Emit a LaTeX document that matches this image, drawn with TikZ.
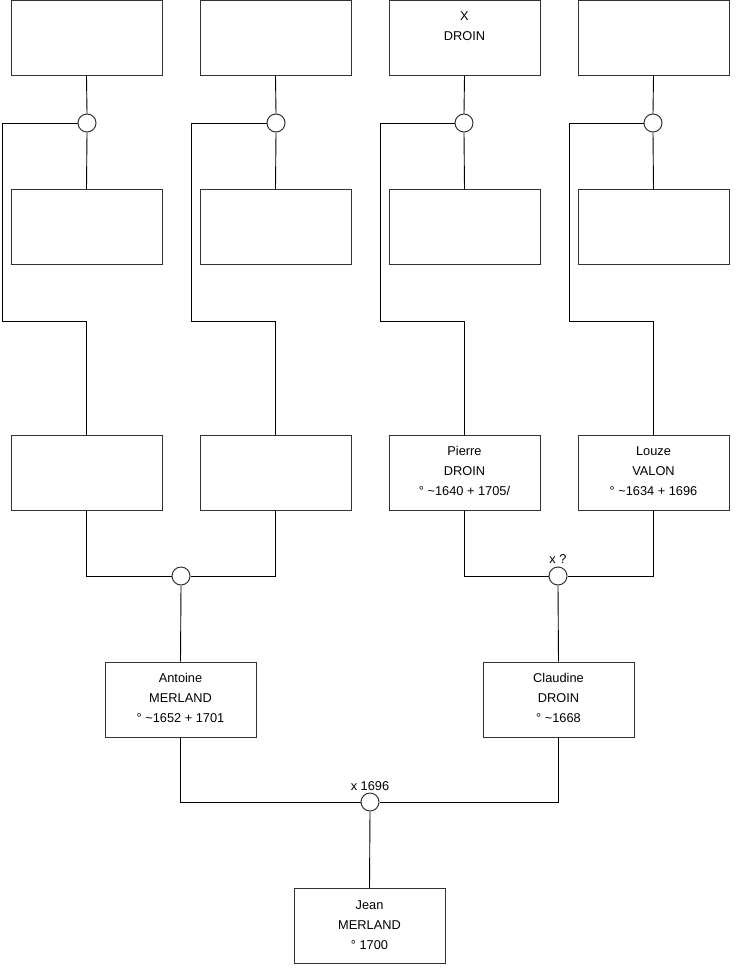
\documentclass[tikz,border=0pt]{standalone}
\usepackage{fontspec}
\setmainfont{Liberation Sans}
\usetikzlibrary{backgrounds}
\begin{document}
\begin{tikzpicture}[x=1pt,y=-1pt,
  pbox/.style={draw=black!80,line width=1pt,minimum width=151pt,minimum height=75pt,inner sep=0pt,fill=white},
  marr/.style={draw=black!80,line width=1pt,circle,minimum size=18pt,inner sep=0pt,fill=white},
  ptext/.style={anchor=north,inner sep=0pt,align=center,font=\fontsize{12.8}{20}\selectfont},
  lbl/.style={inner sep=0pt,font=\fontsize{12.8}{14}\selectfont},
  conn/.style={draw=black,line width=0.9pt}]
\useasboundingbox (0,0) rectangle (740,975);
% row 1
\node[pbox] (a1) at (86.5,38) {};
\node[pbox] (a2) at (275.5,38) {};
\node[pbox] (a3) at (464.5,38) {};
\node[pbox] (a4) at (653.5,38) {};
% row 2
\node[pbox] (b1) at (86.5,227) {};
\node[pbox] (b2) at (275.5,227) {};
\node[pbox] (b3) at (464.5,227) {};
\node[pbox] (b4) at (653.5,227) {};
% row 3
\node[pbox] (c1) at (86.5,472.5) {};
\node[pbox] (c2) at (275.5,472.5) {};
\node[pbox] (c3) at (464.5,472.5) {};
\node[pbox] (c4) at (653.5,472.5) {};
% row 4
\node[pbox] (d1) at (180.5,699.5) {};
\node[pbox] (d2) at (558.5,699.5) {};
% row 5
\node[pbox] (e1) at (369.5,926) {};
% circles
\node[marr] (m1) at (87,123) {};
\node[marr] (m2) at (276,123) {};
\node[marr] (m3) at (464,123) {};
\node[marr] (m4) at (653,123) {};
\node[marr] (m5) at (181,576) {};
\node[marr] (m6) at (558,576) {};
\node[marr] (m7) at (370,802) {};
% coordinates
\coordinate (p1) at (2,123);  \coordinate (q1) at (2,321);
\coordinate (p2) at (191,123); \coordinate (q2) at (191,321);
\coordinate (p3) at (380,123); \coordinate (q3) at (380,321);
\coordinate (p4) at (569,123); \coordinate (q4) at (569,321);
\begin{pgfonlayer}{background}
% connectors top
\foreach \i in {1,2,3,4}{
  \draw[conn] (a\i.south) -- (m\i.north);
  \draw[conn] (m\i.south) -- (b\i.north);
  \draw[conn] (m\i.west) -- (p\i) -- (q\i) -| (c\i.north);
}
% connectors bottom
\draw[conn] (c1.south) |- (m5.west);
\draw[conn] (c2.south) |- (m5.east);
\draw[conn] (m5.south) -- (d1.north);
\draw[conn] (c3.south) |- (m6.west);
\draw[conn] (c4.south) |- (m6.east);
\draw[conn] (m6.south) -- (d2.north);
\draw[conn] (d1.south) |- (m7.west);
\draw[conn] (d2.south) |- (m7.east);
\draw[conn] (m7.south) -- (e1.north);
\end{pgfonlayer}
% texts
\node[ptext] (ta3) at ([yshift=-11]a3.north) {X\\DROIN};
\node[ptext] (tc3) at ([yshift=-11.5]c3.north) {Pierre\\DROIN\\° \textasciitilde 1640 + 1705/};
\node[ptext] (tc4) at ([yshift=-11.5]c4.north) {Louze\\VALON\\° \textasciitilde 1634 + 1696};
\node[ptext] (td1) at ([yshift=-11.5]d1.north) {Antoine\\MERLAND\\° \textasciitilde 1652 + 1701};
\node[ptext] (td2) at ([yshift=-11.5]d2.north) {Claudine\\DROIN\\° \textasciitilde 1668};
\node[ptext] (te1) at ([yshift=-12]e1.north) {Jean\\MERLAND\\° 1700};
\node[lbl] (l6) at (558,559) {x ?};
\node[lbl] (l7) at (370,786) {x 1696};
\end{tikzpicture}
\end{document}
